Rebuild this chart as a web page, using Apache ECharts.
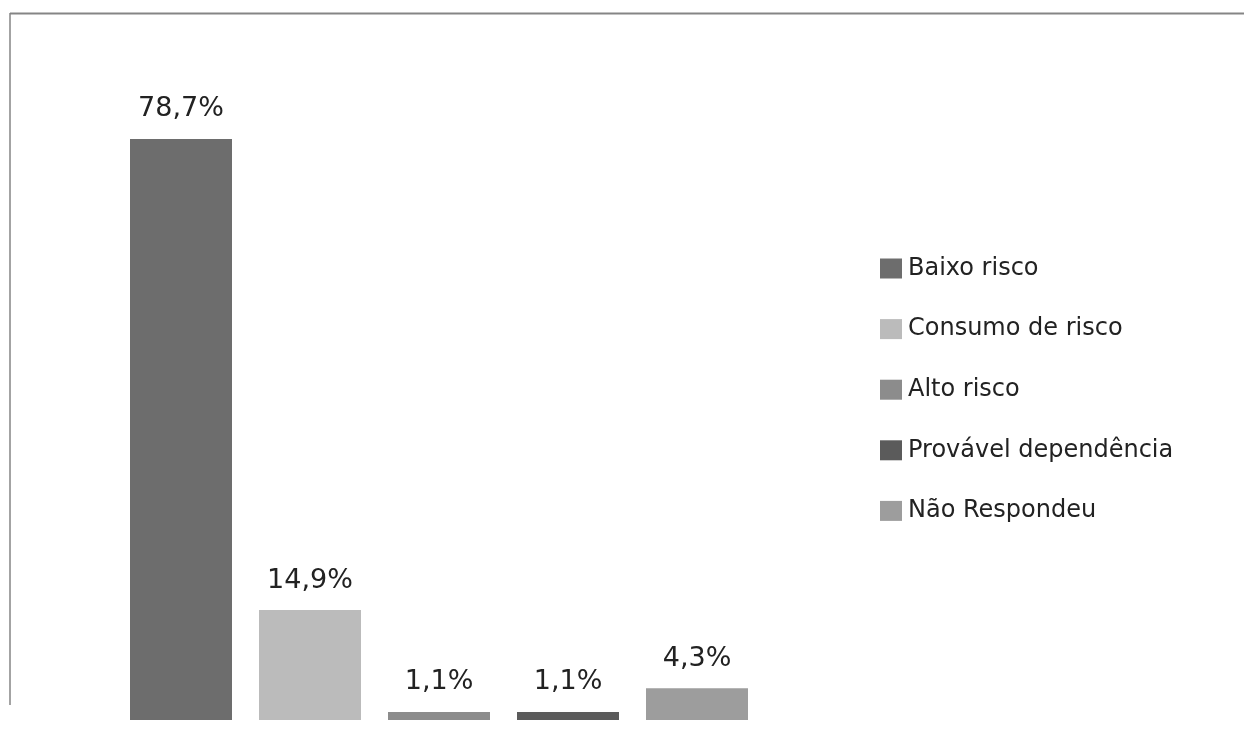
<!DOCTYPE html>
<html>
<head>
<meta charset="utf-8">
<script src="https://cdn.jsdelivr.net/npm/echarts@6/dist/echarts.min.js"></script>
<style>
html,body{margin:0;padding:0;background:#fff;}
#c{width:1244px;height:729px;}
</style>
</head>
<body>
<div id="c"></div>
<script>
var categories = ['Baixo risco', 'Consumo de risco', 'Alto risco', 'Provável dependência', 'Não Respondeu'];
var values = [78.7, 14.9, 1.1, 1.1, 4.3];
var colors = ['#6d6d6d', '#bbbbbb', '#8c8c8c', '#5b5b5b', '#9d9d9d'];

var chart = echarts.init(document.getElementById('c'));
var FONT = 'DejaVu Sans, Verdana, sans-serif';

var series = categories.map(function (name, i) {
  var data = categories.map(function (c, j) { return j === i ? values[i] : '-'; });
  return {
    name: name,
    type: 'bar',
    stack: 'all',
    barWidth: 102,
    data: data,
    itemStyle: { color: colors[i] },
    label: {
      show: true,
      position: 'top',
      distance: 16,
      color: '#222',
      fontFamily: FONT,
      fontSize: 27,
      formatter: function (p) { return p.value.toFixed(1).replace('.', ',') + '%'; }
    }
  };
});

chart.setOption({
  backgroundColor: '#fff',
  animation: false,
  graphic: [
    { type: 'line', shape: { x1: 10, y1: 13.5, x2: 1244, y2: 13.5 }, style: { stroke: '#858585', lineWidth: 2 } },
    { type: 'line', shape: { x1: 10, y1: 13, x2: 10, y2: 705 }, style: { stroke: '#858585', lineWidth: 1.5 } }
  ],
  legend: {
    orient: 'vertical',
    left: 880,
    top: 256.5,
    padding: 0,
    itemWidth: 22,
    itemHeight: 20,
    itemGap: 36.6,
    icon: 'rect',
    textStyle: { fontFamily: FONT, fontSize: 24, color: '#222', padding: [0, 0, 0, 1] },
    data: categories
  },
  grid: { left: 116.5, right: 1244 - 761.5, top: 55.5, bottom: 9 },
  xAxis: {
    type: 'category',
    data: categories,
    axisLine: { show: false },
    axisTick: { show: false },
    axisLabel: { show: false }
  },
  yAxis: {
    type: 'value',
    min: 0,
    max: 90,
    axisLine: { show: false },
    axisTick: { show: false },
    axisLabel: { show: false },
    splitLine: { show: false }
  },
  series: series
});
</script>
</body>
</html>
